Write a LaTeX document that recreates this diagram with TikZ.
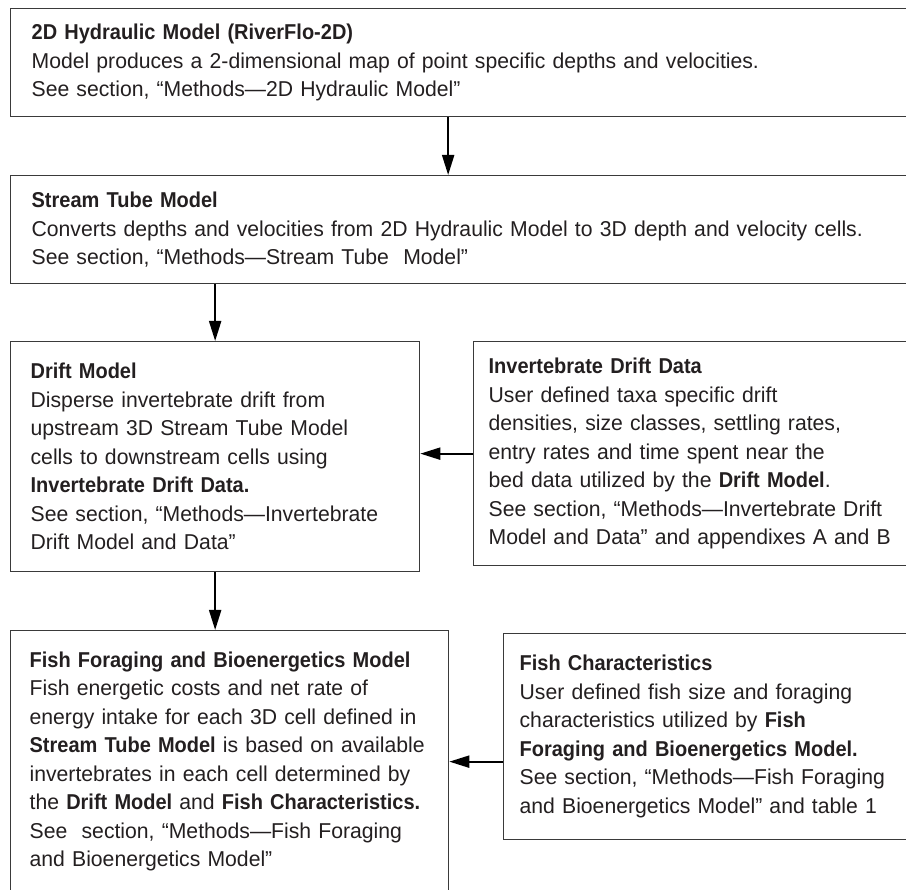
\documentclass[tikz,border=0pt]{standalone}
\usepackage{fontspec}
\setmainfont{Liberation Sans}[FakeStretch=0.985,BoldFeatures={FakeStretch=0.93}]
\usetikzlibrary{arrows.meta}
\usetikzlibrary{shapes}

\definecolor{boxline}{HTML}{3A3A3A}
\definecolor{boxtext}{HTML}{231F20}

\hyphenpenalty=10000
\exhyphenpenalty=10000

\tikzset{
  modelbox/.style={rectangle,draw=boxline,line width=1.3pt,anchor=north west,align=left,
    inner xsep=21pt,inner ysep=0pt,text=boxtext,font=\fontsize{21.5}{28.5}\selectfont},
  flowarrow/.style={draw=black,line width=2pt,-{Triangle[length=20pt,width=12pt]}}
}

\begin{document}
\begin{tikzpicture}[x=1pt,y=-1pt]
\useasboundingbox (0,0) rectangle (906,890);
\clip (0,0) rectangle (906,890);

\node(hyd) at (10,8) [modelbox,text width=863pt,minimum height=108pt]{\textbf{2D Hydraulic Model (RiverFlo-2D)}\\ Model produces a 2-dimensional map of point specific depths and velocities.\\ See section, “Methods—2D Hydraulic Model”};
\node(tube) at (10,175) [modelbox,text width=863pt,minimum height=108pt]{\textbf{Stream Tube Model}\\ Converts depths and velocities from 2D Hydraulic Model to 3D depth and velocity cells.\\ See section, “Methods—Stream Tube~~Model”};
\node(drift) at (10,341) [modelbox,inner xsep=20pt,text width=369pt,minimum height=230pt]{\textbf{Drift Model}\\ Disperse invertebrate drift from\\ upstream 3D Stream Tube Model\\ cells to downstream cells using\\ \textbf{Invertebrate Drift Data.}\\ See section, “Methods—Invertebrate\\ Drift Model and Data”};
\node(invdata) at (473,341) [modelbox,inner xsep=15pt,text width=420pt,minimum height=224pt]{\textbf{Invertebrate Drift Data}\\ User defined taxa specific drift\\ densities, size classes, settling rates,\\ entry rates and time spent near the\\ bed data utilized by the \textbf{Drift Model}.\\ See section, “Methods—Invertebrate Drift\\ Model and Data” and appendixes A and B};
\node(fish) at (10,630) [modelbox,inner xsep=19pt,text width=400pt,minimum height=262pt]{\textbf{Fish Foraging and Bioenergetics Model}\\ Fish energetic costs and net rate of\\ energy intake for each 3D cell defined in\\ \textbf{Stream Tube Model} is based on available\\ invertebrates in each cell determined by\\ the \textbf{Drift Model} and \textbf{Fish Characteristics.}\\ See~~section, “Methods—Fish Foraging\\ and Bioenergetics Model”};
\node(fishchar) at (503,633) [modelbox,inner xsep=16pt,text width=388pt,minimum height=206pt]{\textbf{Fish Characteristics}\\ User defined fish size and foraging\\ characteristics utilized by \textbf{Fish}\\ \textbf{Foraging and Bioenergetics Model.}\\ See section, “Methods—Fish Foraging\\ and Bioenergetics Model” and table 1};

\draw[flowarrow] ([xshift=-15pt]hyd.south) -- ([xshift=-15pt]tube.north);
\draw[flowarrow] (tube.south -| drift.north) -- (drift.north);
\draw[flowarrow] (drift.south) -- (drift.south |- fish.north);
\draw[flowarrow] (invdata.west) -- (invdata.west -| drift.east);
\draw[flowarrow] (fishchar.west |- fish.east) -- (fish.east);
\end{tikzpicture}
\end{document}
